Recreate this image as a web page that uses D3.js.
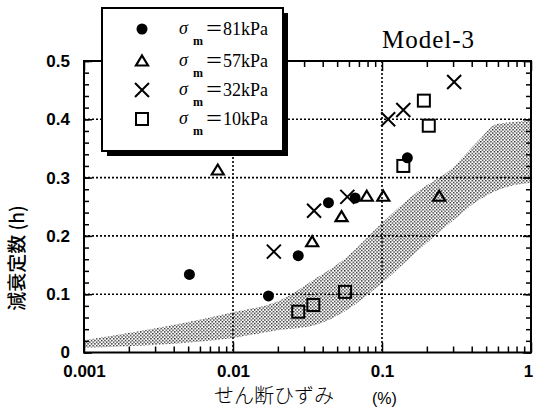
<!DOCTYPE html>
<html>
<head>
<meta charset="utf-8">
<script src="https://cdn.jsdelivr.net/npm/d3@7"></script>
<style>
body{margin:0;background:#fff;}
</style>
</head>
<body>
<div id="chart"></div>
<script>
// damping ratio vs shear strain, Model-3
var strainTicks=[0.001,0.01,0.1,1];
var strainLabels=["0.001","0.01","0.1","1"];
var dampTicks=[0,0.1,0.2,0.3,0.4,0.5];
var dampLabels=["0","0.1","0.2","0.3","0.4","0.5"];
var seriesNames=["＝81kPa","＝57kPa","＝32kPa","＝10kPa"];

var s81=[[0.0051,0.134],[0.0173,0.097],[0.0274,0.166],[0.0437,0.257],[0.066,0.265],[0.148,0.334]];
var s57=[[0.0079,0.313],[0.034,0.19],[0.0535,0.233],[0.079,0.268],[0.102,0.268],[0.242,0.268]];
var s32=[[0.0188,0.173],[0.035,0.243],[0.0585,0.267],[0.110,0.400],[0.139,0.416],[0.305,0.464]];
var s10=[[0.0274,0.070],[0.0346,0.0815],[0.0565,0.104],[0.139,0.32],[0.191,0.432],[0.206,0.389]];

// shaded range
var bandX=[0.001,0.01,0.021,0.0344,0.0582,0.1,0.18,0.286,0.45,0.59,1];
var bandTop=[0.021,0.069,0.090,0.124,0.164,0.222,0.279,0.313,0.365,0.392,0.397];
var bandBot=[0.008,0.025,0.039,0.046,0.073,0.119,0.178,0.222,0.262,0.278,0.291];

var margin={top:61,right:3,bottom:60.5,left:84},
w=534-margin.left-margin.right,
h=413-margin.top-margin.bottom;

var svg=d3.select("#chart").append("svg")
.attr("width",534).attr("height",413);

var defs=svg.append("defs");
var pat=defs.append("pattern").attr("id","stip")
.attr("patternUnits","userSpaceOnUse").attr("width",3.4).attr("height",3.4);
pat.append("rect").attr("x",0).attr("y",0).attr("width",1.4).attr("height",1.4).attr("fill","#222");
pat.append("rect").attr("x",1.7).attr("y",1.7).attr("width",1.4).attr("height",1.4).attr("fill","#222");

var g=svg.append("g").attr("transform",`translate(${margin.left},${margin.top})`);

var x=d3.scaleLog().domain([0.001,1]).range([0,w]);
var y=d3.scaleLinear().domain([0,0.5]).range([h,0]);

g.append("defs").append("clipPath").attr("id","clip")
.append("rect").attr("width",w).attr("height",h);

// band
var band=bandX.map(function(d,i){return {x:d,t:bandTop[i],b:bandBot[i]};});
g.append("path").datum(band)
.attr("clip-path","url(#clip)")
.attr("fill","url(#stip)")
.attr("d",d3.area().curve(d3.curveMonotoneX)
.x(function(d){return x(d.x);})
.y0(function(d){return y(d.b);})
.y1(function(d){return y(d.t);}));

// dotted grid
g.selectAll(".hg").data([0.1,0.2,0.3,0.4]).enter().append("line")
.attr("x1",0).attr("x2",w)
.attr("y1",function(d){return y(d);}).attr("y2",function(d){return y(d);})
.attr("stroke","#000").attr("stroke-width",1.6).attr("stroke-dasharray","2,2");
g.selectAll(".vg").data([0.01,0.1]).enter().append("line")
.attr("y1",0).attr("y2",h)
.attr("x1",function(d){return x(d);}).attr("x2",function(d){return x(d);})
.attr("stroke","#000").attr("stroke-width",1.6).attr("stroke-dasharray","2,2");

// minor ticks
var minorX=[];
[0.001,0.01,0.1].forEach(function(dec){for(var k=2;k<10;k++)minorX.push(dec*k);});
var minorY=d3.range(0,0.501,0.02);

g.append("g").attr("transform","translate(0,"+h+")")
.call(d3.axisBottom(x).tickValues(minorX).tickSize(-6).tickFormat(""));
g.append("g")
.call(d3.axisTop(x).tickValues(minorX).tickSize(-6).tickFormat(""));
g.append("g")
.call(d3.axisLeft(y).tickValues(minorY).tickSize(-5).tickFormat(""));
g.append("g").attr("transform","translate("+w+",0)")
.call(d3.axisRight(y).tickValues(minorY).tickSize(-5).tickFormat(""));

// major ticks + labels
var xb=g.append("g").attr("class","ax").attr("transform","translate(0,"+h+")")
.call(d3.axisBottom(x).tickValues(strainTicks).tickSize(-10).tickPadding(12)
.tickFormat(function(d,i){return strainLabels[i];}));
xb.selectAll(".tick").filter(function(d){return d==1;}).select("text").attr("dx",-3);
g.append("g")
.call(d3.axisTop(x).tickValues(strainTicks).tickSize(-10).tickFormat(""));
var yl=g.append("g").attr("class","ax")
.call(d3.axisLeft(y).tickValues(dampTicks).tickSize(-8).tickPadding(14)
.tickFormat(function(d,i){return dampLabels[i];}));
g.append("g").attr("transform","translate("+w+",0)")
.call(d3.axisRight(y).tickValues(dampTicks).tickSize(-8).tickFormat(""));

g.selectAll(".domain").remove();
g.selectAll(".tick line").attr("stroke","#000").attr("stroke-width",1.5);
g.selectAll(".ax text").attr("font-family","Liberation Sans, Arial, sans-serif")
.attr("font-size",17).attr("font-weight","bold").attr("fill","#000");

g.append("rect").attr("width",w).attr("height",h)
.attr("fill","none").attr("stroke","#000").attr("stroke-width",2);

// markers
function drawCircles(data){
g.selectAll(null).data(data).enter().append("circle")
.attr("cx",function(d){return x(d[0]);}).attr("cy",function(d){return y(d[1]);})
.attr("r",5.5).attr("fill","#000");
}
function drawTri(data){
g.selectAll(null).data(data).enter().append("path")
.attr("transform",function(d){return "translate("+x(d[0])+","+y(d[1])+")";})
.attr("d","M0,-5.5L6,4.5L-6,4.5Z")
.attr("fill","none").attr("stroke","#000").attr("stroke-width",2.2);
}
function drawX(data){
g.selectAll(null).data(data).enter().append("path")
.attr("transform",function(d){return "translate("+x(d[0])+","+y(d[1])+")";})
.attr("d","M-7,-7L7,7M-7,7L7,-7")
.attr("fill","none").attr("stroke","#000").attr("stroke-width",2);
}
function drawSq(data){
g.selectAll(null).data(data).enter().append("rect")
.attr("x",function(d){return x(d[0])-6;}).attr("y",function(d){return y(d[1])-6;})
.attr("width",12).attr("height",12)
.attr("fill","none").attr("stroke","#000").attr("stroke-width",2);
}
drawTri(s57);
drawSq(s10);
drawX(s32);
drawCircles(s81);

// title
svg.append("text").attr("x",382).attr("y",48)
.attr("font-family","Liberation Serif, Times New Roman, serif")
.attr("font-size",25).attr("letter-spacing",1).text("Model-3");

// legend box with shadow
svg.append("rect").attr("x",107).attr("y",13).attr("width",181).attr("height",143).attr("fill","#000");
svg.append("rect").attr("x",102).attr("y",8).attr("width",181).attr("height",143)
.attr("fill","#fff").attr("stroke","#000").attr("stroke-width",2);

var leg=svg.append("g");
var rowY=[29,61,90,119];
seriesNames.forEach(function(nm,i){
var cy=rowY[i],cx=142;
if(i==0)leg.append("circle").attr("cx",cx).attr("cy",cy).attr("r",5.5).attr("fill","#000");
if(i==1)leg.append("path").attr("transform","translate("+cx+","+cy+")")
.attr("d","M0,-5.5L6,4.5L-6,4.5Z").attr("fill","none").attr("stroke","#000").attr("stroke-width",2.2);
if(i==2)leg.append("path").attr("transform","translate("+cx+","+cy+")")
.attr("d","M-7,-7L7,7M-7,7L7,-7").attr("fill","none").attr("stroke","#000").attr("stroke-width",2);
if(i==3)leg.append("rect").attr("x",cx-6).attr("y",cy-6).attr("width",12).attr("height",12)
.attr("fill","none").attr("stroke","#000").attr("stroke-width",2);
leg.append("text").attr("x",179).attr("y",cy+5)
.attr("font-family","Liberation Serif, serif").attr("font-style","italic")
.attr("font-size",18).text("σ");
leg.append("text").attr("x",193).attr("y",cy+16)
.attr("font-family","Liberation Serif, serif").attr("font-weight","bold")
.attr("font-size",12).text("m");
leg.append("text").attr("x",205).attr("y",cy+6)
.attr("font-family","Liberation Serif, Noto Sans CJK JP, serif")
.attr("font-size",18).text(nm);
});

// axis titles
svg.append("text").attr("transform","translate(24,258)rotate(-90)")
.attr("text-anchor","middle")
.attr("font-family","Noto Sans CJK JP, sans-serif").attr("font-weight",500).attr("font-size",19)
.text("減衰定数 (h)");
svg.append("text").attr("x",214).attr("y",403)
.attr("font-family","Noto Sans CJK JP, sans-serif").attr("font-weight",300).attr("font-size",20)
.text("せん断ひずみ");
svg.append("text").attr("x",372).attr("y",404)
.attr("font-family","Liberation Sans, Arial, sans-serif").attr("font-size",16)
.text("(%)");
</script>
</body>
</html>
